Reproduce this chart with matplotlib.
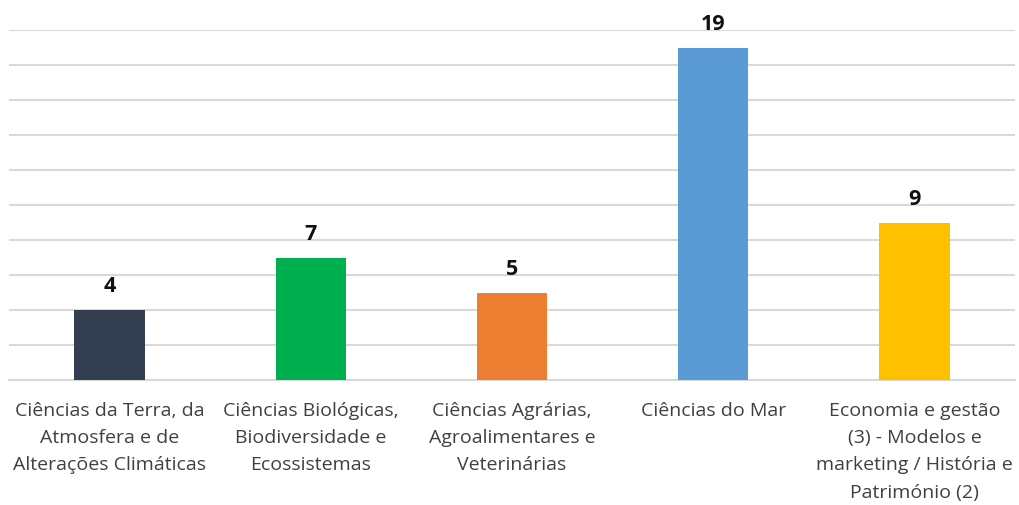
import matplotlib.pyplot as plt

categories = [
    "Ciências da Terra, da\nAtmosfera e de\nAlterações Climáticas",
    "Ciências Biológicas,\nBiodiversidade e\nEcossistemas",
    "Ciências Agrárias,\nAgroalimentares e\nVeterinárias",
    "Ciências do Mar",
    "Economia e gestão\n(3) - Modelos e\nmarketing / História e\nPatrimónio (2)",
]
values = [4, 7, 5, 19, 9]
colors = ["#333f50", "#00b050", "#ed7d31", "#5b9bd5", "#ffc000"]

plt.rcParams["font.family"] = ["Open Sans", "DejaVu Sans"]

fig = plt.figure(figsize=(10.19, 5.06), dpi=100)
ax = fig.add_axes([9 / 1019, 1 - 381 / 506, 1006 / 1019, 350 / 506])

x = range(len(values))
ax.bar(x, values, width=0.35, color=colors, zorder=3)
for xi, v in zip(x, values):
    ax.annotate(str(v), (xi, v), xytext=(0, 13.5), textcoords="offset points",
                ha="center", va="baseline", fontsize=15.5, fontweight="bold",
                color="#111111")

ax.set_xlim(-0.5, len(values) - 0.5)
ax.set_ylim(0, 20)
ax.set_yticks(range(0, 21, 2))
ax.yaxis.grid(True, color="#d9d9d9", linewidth=1.5, zorder=0)
ax.tick_params(axis="y", left=False, labelleft=False)
ax.tick_params(axis="x", length=0, pad=15)
ax.set_xticks(list(x))
ax.set_xticklabels(categories, fontsize=14, color="#404040", linespacing=1.66)
for s in ["top", "right", "left"]:
    ax.spines[s].set_visible(False)
ax.spines["bottom"].set_color("#d9d9d9")
ax.spines["bottom"].set_linewidth(1.5)

fig.savefig("out.png", dpi=100)
